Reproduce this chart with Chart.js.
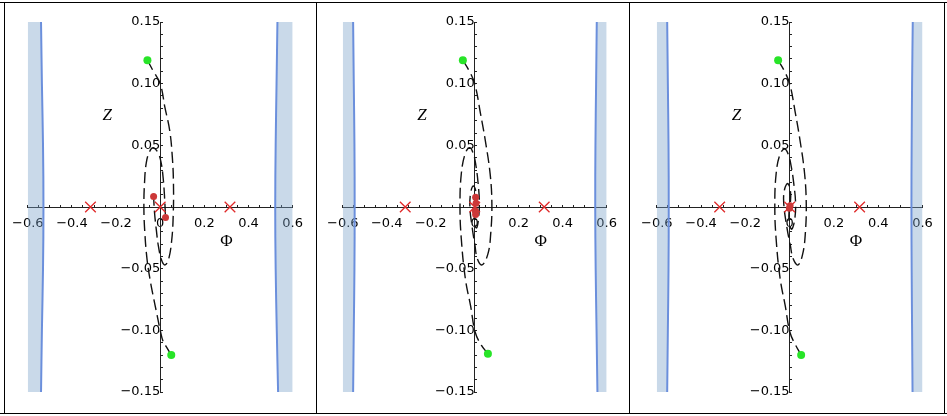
<!DOCTYPE html>
<html>
<head>
<meta charset="utf-8">
<script src="https://cdn.jsdelivr.net/npm/chart.js@4.4.0/dist/chart.umd.min.js"></script>
<style>
  body { margin: 0; background: #fff; width: 947px; height: 416px; position: relative; overflow: hidden; }
  canvas { position: absolute; top: 0; }
  .rule { position: absolute; background: #000; }
</style>
</head>
<body>
<canvas id="p1" width="315" height="416" style="left:0"></canvas>
<canvas id="p2" width="314" height="416" style="left:315px"></canvas>
<canvas id="p3" width="317" height="416" style="left:629px"></canvas>
<div class="rule" style="left:0;top:2px;width:947px;height:1px"></div>
<div class="rule" style="left:0;top:413px;width:947px;height:1px"></div>
<div class="rule" style="left:4px;top:2px;width:1px;height:412px"></div>
<div class="rule" style="left:316px;top:2px;width:1px;height:412px"></div>
<div class="rule" style="left:629px;top:2px;width:1px;height:412px"></div>
<div class="rule" style="left:944px;top:2px;width:1px;height:412px"></div>
<script>
// axis ranges (Phi horizontal, Z vertical)
const phiRange = [-0.6, 0.6];
const zRange = [-0.15, 0.15];

// saddle points (red crosses), same in every panel
const saddles = [[-0.316, 0], [0, 0], [0.316, 0]];

// ---- panel 1 ----
const leftEdge1 = [[-0.540, 0.15], [-0.536, 0.1], [-0.531, 0.05], [-0.529, 0], [-0.531, -0.05], [-0.536, -0.1], [-0.540, -0.15]];
const rightEdge1 = [[0.531, 0.15], [0.527, 0.1], [0.523, 0.05], [0.521, 0], [0.523, -0.05], [0.528, -0.1], [0.534, -0.15]];
const trajTop1 = [[-0.058, 0.119], [-0.031, 0.11], [0, 0.1], [0.021, 0.081], [0.043, 0.062], [0.055, 0.04], [0.06, 0.019],
  [0.059, -0.006], [0.052, -0.027], [0.037, -0.043], [0.021, -0.047], [0.006, -0.043], [-0.008, -0.032], [-0.018, -0.018],
  [-0.026, -0.004], [-0.03, 0.0085]];
const trajBottom1 = [[0.05, -0.12], [0.03, -0.114], [0.013, -0.109], [0, -0.1], [-0.016, -0.086], [-0.031, -0.073],
  [-0.046, -0.059], [-0.06, -0.042], [-0.07, -0.02], [-0.074, 0], [-0.071, 0.02], [-0.063, 0.036], [-0.048, 0.045],
  [-0.031, 0.048], [-0.01, 0.044], [0.004, 0.036], [0.013, 0.024], [0.019, 0.01], [0.024, -0.0085]];
const ends1 = [[-0.03, 0.0085], [0.024, -0.0085]];
const starts1 = [[-0.058, 0.119], [0.05, -0.12]];

// ---- panel 2 ----
const leftEdge2 = [[-0.553, 0.15], [-0.550, 0.1], [-0.547, 0.05], [-0.546, 0], [-0.547, -0.05], [-0.550, -0.1], [-0.553, -0.15]];
const rightEdge2 = [[0.555, 0.15], [0.552, 0.1], [0.549, 0.05], [0.548, 0], [0.550, -0.05], [0.554, -0.1], [0.558, -0.15]];
const trajTop2 = [[-0.054, 0.119], [-0.027, 0.111], [0, 0.1], [0.026, 0.076], [0.048, 0.054], [0.07, 0.027], [0.078, 0.003],
  [0.073, -0.021], [0.06, -0.038], [0.033, -0.047], [0.012, -0.042], [0.001, -0.031], [-0.012, -0.016], [-0.022, 0],
  [-0.018, 0.012], [-0.006, 0.017], [0.006, 0.012], [0.008, 0.004]];
const trajBottom2 = [[0.06, -0.119], [0.03, -0.112], [0.003, -0.102], [-0.019, -0.08], [-0.042, -0.059], [-0.061, -0.026],
  [-0.067, 0], [-0.061, 0.027], [-0.042, 0.044], [-0.022, 0.048], [-0.006, 0.043], [0.005, 0.034], [0.015, 0.02],
  [0.021, 0.004], [0.017, -0.01], [0.008, -0.017], [-0.002, -0.012], [0.002, -0.004]];
const ends2 = [[0.004, 0.008], [0.006, 0.003], [0.002, -0.003], [0.004, -0.006]];
const starts2 = [[-0.054, 0.119], [0.06, -0.119]];

// ---- panel 3 ----
const leftEdge3 = [[-0.553, 0.15], [-0.550, 0.1], [-0.547, 0.05], [-0.546, 0], [-0.547, -0.05], [-0.550, -0.1], [-0.553, -0.15]];
const rightEdge3 = [[0.556, 0.15], [0.553, 0.1], [0.551, 0.05], [0.550, 0], [0.551, -0.05], [0.553, -0.1], [0.555, -0.15]];
const trajTop3 = [[-0.052, 0.119], [-0.026, 0.111], [0, 0.1], [0.025, 0.077], [0.046, 0.055], [0.067, 0.028], [0.075, 0.003],
  [0.071, -0.021], [0.059, -0.038], [0.038, -0.047], [0.016, -0.042], [0.003, -0.031], [-0.012, -0.017], [-0.027, 0.004],
  [-0.022, 0.015], [-0.008, 0.019], [0.004, 0.012], [0.003, 0.002]];
const trajBottom3 = [[0.052, -0.12], [0.027, -0.112], [0.002, -0.102], [-0.02, -0.08], [-0.043, -0.058], [-0.061, -0.026],
  [-0.067, 0], [-0.061, 0.027], [-0.043, 0.043], [-0.022, 0.047], [-0.005, 0.042], [0.007, 0.033], [0.018, 0.02],
  [0.027, 0.002], [0.021, -0.012], [0.008, -0.018], [-0.003, -0.01], [-0.002, -0.002]];
const ends3 = [[0.002, 0.001], [-0.001, -0.001]];
const starts3 = [[-0.052, 0.119], [0.052, -0.12]];

const pts = arr => arr.map(p => ({ x: p[0], y: p[1] }));

const axisTitles = {
  id: 'axisTitles',
  afterDraw(chart) {
    const { ctx, scales: { x, y } } = chart;
    ctx.save();
    ctx.fillStyle = '#000';
    ctx.textAlign = 'center';
    ctx.textBaseline = 'middle';
    ctx.font = 'italic 17px "Liberation Serif"';
    ctx.fillText('Z', x.getPixelForValue(-0.24), y.getPixelForValue(0.074));
    ctx.font = '17px "Liberation Serif"';
    ctx.fillText('Φ', x.getPixelForValue(0.3), y.getPixelForValue(-0.028));
    ctx.restore();
  }
};

const shadeColor = 'rgba(120,160,200,0.4)';
const edgeColor = '#6b8fdc';
const tickFont = { family: 'DejaVu Sans', size: 13 };

function makePanel(id, pad, leftEdge, rightEdge, trajTop, trajBottom, ends, starts) {
  const leftShade = [[phiRange[0], zRange[1]], ...leftEdge, [phiRange[0], zRange[0]]];
  const rightShade = [[phiRange[1], zRange[1]], ...rightEdge, [phiRange[1], zRange[0]]];
  const line = { showLine: true, pointRadius: 0, fill: false };
  return new Chart(document.getElementById(id), {
    type: 'scatter',
    data: {
      datasets: [
        { ...line, data: pts(leftShade), fill: 'shape', backgroundColor: shadeColor, borderWidth: 0, order: 9 },
        { ...line, data: pts(rightShade), fill: 'shape', backgroundColor: shadeColor, borderWidth: 0, order: 9 },
        { ...line, data: pts(leftEdge), borderColor: edgeColor, borderWidth: 2, tension: 0.4, order: 8 },
        { ...line, data: pts(rightEdge), borderColor: edgeColor, borderWidth: 2, tension: 0.4, order: 8 },
        { ...line, data: pts(trajTop), borderColor: '#111', borderWidth: 1.4, borderDash: [11, 5], tension: 0.4, order: 5 },
        { ...line, data: pts(trajBottom), borderColor: '#111', borderWidth: 1.4, borderDash: [11, 5], tension: 0.4, order: 5 },
        { data: pts(saddles), pointStyle: 'crossRot', pointRadius: 7.5, borderColor: '#e02a2a', borderWidth: 1.3, order: 3 },
        { data: pts(ends), pointRadius: 3.5, backgroundColor: '#cc3838', borderWidth: 0, order: 2 },
        { data: pts(starts), pointRadius: 4, backgroundColor: '#28e428', borderWidth: 0, order: 1 }
      ]
    },
    options: {
      responsive: false,
      animation: false,
      events: [],
      layout: { padding: pad },
      plugins: { legend: { display: false }, tooltip: { enabled: false } },
      scales: {
        x: {
          type: 'linear', min: phiRange[0], max: phiRange[1], position: { y: 0 },
          border: { display: true, color: '#222', width: 1 },
          grid: { drawOnChartArea: false, drawTicks: true, tickLength: -3, color: '#222' },
          ticks: {
            stepSize: 0.05, autoSkip: false, maxRotation: 0, padding: 12, color: '#000', font: tickFont,
            callback: v => {
              const k = Math.round(v * 100);
              if (k % 20 !== 0) return '';
              if (k === 0) return '0';
              return (v < 0 ? '\u2212' : '') + Math.abs(v).toFixed(1);
            }
          }
        },
        y: {
          type: 'linear', min: zRange[0], max: zRange[1], position: { x: 0 },
          border: { display: true, color: '#222', width: 1 },
          grid: { drawOnChartArea: false, drawTicks: true, tickLength: -3, color: '#222' },
          ticks: {
            stepSize: 0.01, autoSkip: false, maxTicksLimit: 100, padding: 8, color: '#000', font: tickFont,
            callback: v => {
              const k = Math.round(v * 100);
              if (k % 5 !== 0 || k === 0) return '';
              return (v < 0 ? '\u2212' : '') + Math.abs(v).toFixed(2);
            }
          }
        }
      }
    },
    plugins: [axisTitles]
  });
}

makePanel('p1', { left: 27, right: 19, top: 22, bottom: 24 }, leftEdge1, rightEdge1, trajTop1, trajBottom1, ends1, starts1);
makePanel('p2', { left: 25.7, right: 20.3, top: 22, bottom: 24 }, leftEdge2, rightEdge2, trajTop2, trajBottom2, ends2, starts2);
makePanel('p3', { left: 25.5, right: 23.5, top: 22, bottom: 24 }, leftEdge3, rightEdge3, trajTop3, trajBottom3, ends3, starts3);
</script>
</body>
</html>
